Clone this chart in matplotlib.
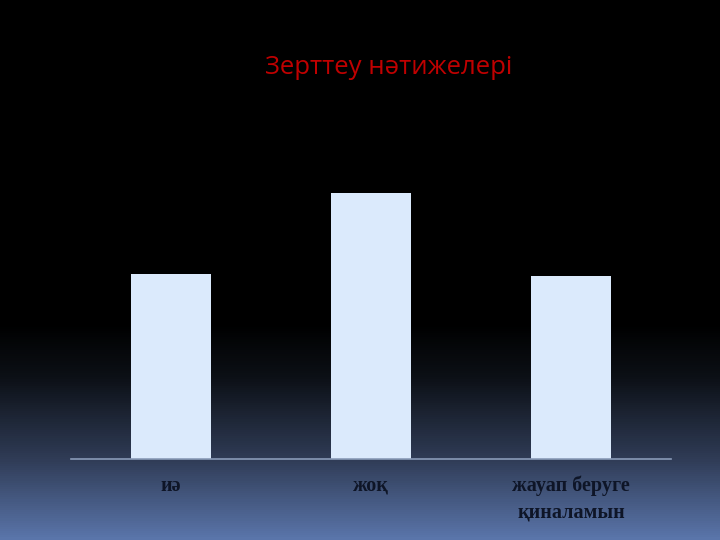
import numpy as np
import matplotlib
matplotlib.use("Agg")
import matplotlib.pyplot as plt
from matplotlib.colors import LinearSegmentedColormap

title = "Зерттеу нәтижелері"
categories = ["иә", "жоқ", "жауап беруге\nқиналамын"]
values = [28.0, 40.3, 27.8]

fig = plt.figure(figsize=(7.2, 5.4), dpi=100)

# background gradient
bg = fig.add_axes([0, 0, 1, 1])
bg.set_axis_off()
cmap = LinearSegmentedColormap.from_list(
    "bg", [(0.0, "#000000"), (0.6, "#000000"), (0.7, "#0c1016"),
           (0.85, "#2f3b55"), (1.0, "#5a75aa")])
grad = np.linspace(0, 1, 540).reshape(-1, 1)
bg.imshow(grad, aspect="auto", cmap=cmap, extent=[0, 1, 0, 1], origin="upper")
bg.set_xlim(0, 1)
bg.set_ylim(0, 1)

# axes: left 71px, right 671px, baseline y=459px
ax = fig.add_axes([71 / 720, (540 - 459) / 540, 600 / 720, (459 - 120) / 540])
ax.patch.set_alpha(0)
x = np.arange(len(categories))
ax.bar(x, values, width=0.4, color="#dbeafc", edgecolor="none", zorder=2)
ax.set_xlim(-0.5, 2.5)
ax.set_ylim(0, 40.3 * (459 - 120) / 266)
for s in ["left", "right", "top"]:
    ax.spines[s].set_visible(False)
ax.spines["bottom"].set_color("#8a9bb8")
ax.spines["bottom"].set_linewidth(1.2)
ax.set_yticks([])
ax.set_xticks(x)
ax.set_xticklabels(categories, fontfamily=["Liberation Serif", "DejaVu Serif"],
                   fontweight="bold", fontsize=14.5, color="#0e1527",
                   linespacing=1.45, va="top")
ax.tick_params(axis="x", length=0, pad=12)

fig.text(389 / 720, 1 - 67 / 540, title, color="#c00000", fontsize=18.5,
         fontfamily=["Open Sans", "DejaVu Sans"], ha="center", va="center")

fig.savefig("out.png", dpi=100)
